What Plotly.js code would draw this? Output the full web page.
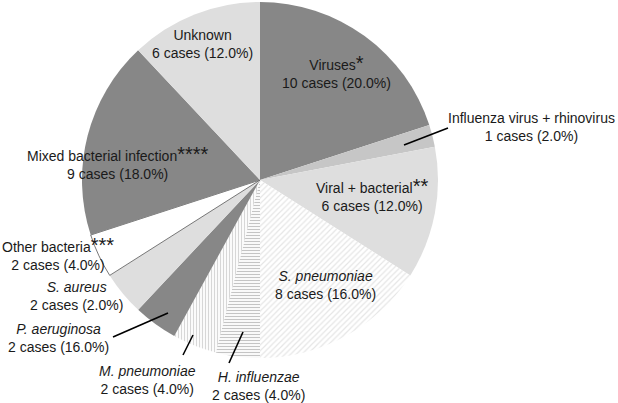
<!DOCTYPE html>
<html>
<head>
<meta charset="utf-8">
<script src="https://cdn.plot.ly/plotly-3.0.1.min.js"></script>
<style>html,body{margin:0;padding:0;background:#fff;}#chart{width:618px;height:403px;}</style>
</head>
<body>
<div id="chart"></div>
<script>
// Data
const labels = ["Viruses", "Influenza virus + rhinovirus", "Viral + bacterial", "S. pneumoniae",
  "H. influenzae", "M. pneumoniae", "P. aeruginosa", "S. aureus", "Other bacteria",
  "Mixed bacterial infection", "Unknown"];
const cases = [10, 1, 6, 8, 2, 2, 2, 2, 2, 9, 6];
const pctLabels = ["20.0%", "2.0%", "12.0%", "16.0%", "4.0%", "4.0%", "16.0%", "2.0%", "4.0%", "18.0%", "12.0%"];
const stars = ["*", "", "**", "", "", "", "", "", "***", "****", ""];
const italic = [false, false, false, true, true, true, true, true, false, false, false];

// Styles
const fillColors = ["#878787", "#c6c6c6", "#dedede", "#ffffff", "#ffffff", "#ffffff",
  "#878787", "#dedede", "#ffffff", "#878787", "#dedede"];
const patShapes = ["", "", "", "/", "-", "|", "", "", "", "", ""];
const patFg = ["#000", "#000", "#000", "#cccccc", "#8a8a8a", "#b0b0b0", "#000", "#000", "#000", "#000", "#000"];
const patSize = [4, 4, 4, 4, 3, 3, 4, 4, 4, 4, 4];
const patSolid = [0.3, 0.3, 0.3, 0.3, 0.4, 0.4, 0.3, 0.3, 0.3, 0.3, 0.3];
const lineColors = ["#ffffff", "#ffffff", "#ffffff", "#ffffff", "#ffffff", "#ffffff",
  "#ffffff", "#ffffff", "#555555", "#ffffff", "#ffffff"];
const lineWidths = [0, 0, 0, 0, 0, 0, 0, 0, 0.8, 0, 0];

// label block centres (pixels) and leader lines (pixels)
const labelPos = [[336, 71], [531, 127], [372, 194], [325, 285], [258, 386], [147, 380],
  [58, 338], [76, 296], [58, 253], [118, 163], [202, 44]];
const leaders = [[404, 145, 448, 128], [113, 337, 168, 313], [183, 355, 193, 335], [229, 363, 243, 332]];

const W = 618, H = 403;
const cx = 260, cy = 180, R = 178;
const px = x => x / W;
const py = y => 1 - y / H;

const annotations = labels.map((lab, i) => {
  let name = italic[i] ? "<i>" + lab + "</i>" : lab;
  if (stars[i]) name += "<span style='font-size:20px'>" + stars[i] + "</span>";
  return {
    xref: "paper", yref: "paper", x: px(labelPos[i][0]), y: py(labelPos[i][1]),
    xanchor: "center", yanchor: "middle", showarrow: false,
    text: name + "<br>" + cases[i] + " cases (" + pctLabels[i] + ")",
    font: {family: "Liberation Sans, Arial, sans-serif", size: 14, color: "#1a1a1a"}
  };
});

const shapes = leaders.map(l => ({
  type: "line", xref: "paper", yref: "paper",
  x0: px(l[0]), y0: py(l[1]), x1: px(l[2]), y1: py(l[3]),
  line: {color: "#000", width: 1.6}
}));

const trace = {
  type: "pie", labels: labels, values: cases, sort: false, direction: "clockwise", rotation: 0,
  textinfo: "none", hoverinfo: "label+value+percent", showlegend: false,
  domain: {x: [px(cx - R), px(cx + R)], y: [py(cy + R), py(cy - R)]},
  marker: {
    colors: fillColors,
    line: {color: lineColors, width: lineWidths},
    pattern: {shape: patShapes, fgcolor: patFg, bgcolor: fillColors, size: patSize, solidity: patSolid, fillmode: "overlay"}
  }
};

Plotly.newPlot("chart", [trace], {
  width: W, height: H, margin: {l: 0, r: 0, t: 0, b: 0},
  paper_bgcolor: "#fff", plot_bgcolor: "#fff",
  annotations: annotations, shapes: shapes
}, {displayModeBar: false, staticPlot: true});
</script>
</body>
</html>
